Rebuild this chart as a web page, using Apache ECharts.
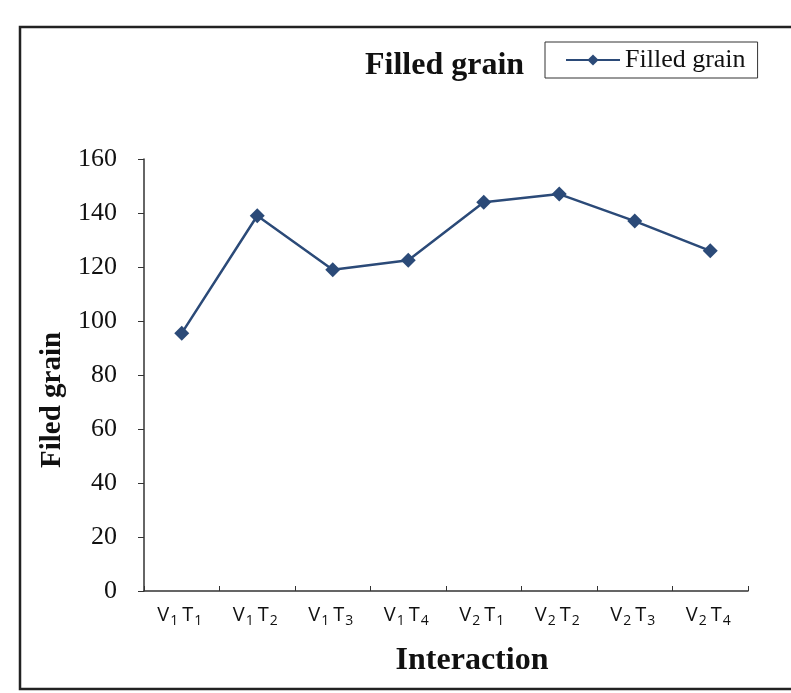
<!DOCTYPE html>
<html>
<head>
<meta charset="utf-8">
<script src="https://cdn.jsdelivr.net/npm/echarts@6/dist/echarts.min.js"></script>
<style>
html,body{margin:0;padding:0;background:#fff;}
#chart{width:791px;height:693px;}
</style>
</head>
<body>
<div id="chart"></div>
<script>
// Data
var categories = ['V1T1','V1T2','V1T3','V1T4','V2T1','V2T2','V2T3','V2T4'];
var categoryLabels = [
  '{v|V}{s|1}{v|T}{s|1}','{v|V}{s|1}{v|T}{s|2}','{v|V}{s|1}{v|T}{s|3}','{v|V}{s|1}{v|T}{s|4}',
  '{v|V}{s|2}{v|T}{s|1}','{v|V}{s|2}{v|T}{s|2}','{v|V}{s|2}{v|T}{s|3}','{v|V}{s|2}{v|T}{s|4}'
];
var filledGrain = [95.5, 139, 119, 122.5, 144, 147, 137, 126];
var yTicks = [0, 20, 40, 60, 80, 100, 120, 140, 160];

var chart = echarts.init(document.getElementById('chart'));
var serif = 'Liberation Serif';
var option = {
  backgroundColor: '#ffffff',
  animation: false,
  title: {
    text: 'Filled grain',
    left: 360, top: 45,
    textStyle: {fontFamily: serif, fontWeight: 'bold', fontSize: 32, color: '#111'}
  },
  legend: {
    left: 545, top: 42,
    padding: [5, 12, 5, 20],
    borderColor: '#333', borderWidth: 1,
    itemWidth: 54, itemHeight: 14, itemGap: 6,
    textStyle: {fontFamily: serif, fontSize: 26, color: '#111'},
    data: ['Filled grain']
  },
  grid: {left: 144, right: 43, top: 159, bottom: 102, containLabel: false},
  xAxis: {
    type: 'category',
    data: categories,
    boundaryGap: true,
    axisLine: {lineStyle: {color: '#333', width: 1.5}},
    axisTick: {show: true, inside: true, length: 5, lineStyle: {color: '#333'}},
    axisLabel: {
      interval: 0,
      margin: 11,
      formatter: function (v, i) { return categoryLabels[i]; },
      rich: {
        v: {fontFamily: 'Open Sans', fontSize: 20, color: '#111'},
        s: {fontFamily: 'Open Sans', fontSize: 14, color: '#111', verticalAlign: 'bottom', padding: [12, 4, 0, 1]}
      }
    },
    name: 'Interaction',
    nameLocation: 'middle',
    nameGap: 54,
    nameTextStyle: {fontFamily: serif, fontWeight: 'bold', fontSize: 32, color: '#111', padding: [0, 0, 0, 52]}
  },
  yAxis: {
    type: 'value',
    min: 0, max: 160, interval: 20,
    axisLine: {show: true, lineStyle: {color: '#333', width: 1.5}},
    axisTick: {show: true, length: 6, lineStyle: {color: '#333'}},
    splitLine: {show: false},
    axisLabel: {
      margin: 27,
      fontFamily: serif, fontSize: 26, color: '#111',
      formatter: function (v) { return yTicks.indexOf(v) >= 0 ? String(v) : ''; }
    },
    name: 'Filed grain',
    nameLocation: 'middle',
    nameGap: 72,
    nameTextStyle: {fontFamily: serif, fontWeight: 'bold', fontSize: 29, color: '#111', padding: [0, 0, 0, -50]}
  },
  graphic: [{
    type: 'rect',
    shape: {x: 20, y: 27, width: 800, height: 662},
    style: {fill: 'none', stroke: '#222', lineWidth: 2.5},
    silent: true
  }],
  series: [{
    name: 'Filled grain',
    type: 'line',
    data: filledGrain,
    symbol: 'diamond',
    symbolSize: 15,
    itemStyle: {color: '#2b4a78'},
    lineStyle: {color: '#2b4a78', width: 2.5}
  }]
};
chart.setOption(option);
</script>
</body>
</html>
